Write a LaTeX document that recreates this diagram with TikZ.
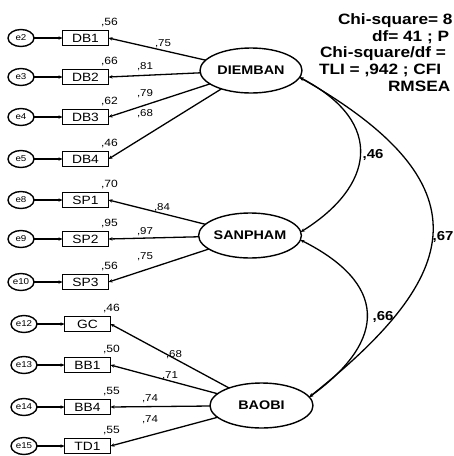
\documentclass[tikz,border=0pt]{standalone}
\usepackage{fontspec}
\setmainfont{Liberation Sans}
\newfontfamily\wide[FakeStretch=1.15]{Liberation Sans}
\usetikzlibrary{arrows.meta,shapes.geometric,calc}
\begin{document}
\begin{tikzpicture}[x=1pt,y=-1pt,
  every node/.style={inner sep=0pt,outer sep=0pt},
  errnode/.style={draw,ellipse,line width=1.4pt,minimum width=26pt,minimum height=17pt,font=\wide\fontsize{8.5}{9}\selectfont},
  obsbox/.style={draw,rectangle,line width=1.4pt,minimum width=46pt,minimum height=15.5pt,font=\wide\fontsize{12}{13}\selectfont},
  latent/.style={draw,ellipse,line width=1.4pt,minimum height=45pt,font=\wide\bfseries\fontsize{12.5}{13}\selectfont},
  tip/.style={-{Stealth[length=4pt,width=3.4pt]}},
  errarrow/.style={tip,line width=1.4pt},
  load/.style={tip,line width=1.3pt},
  cov/.style={{Stealth[length=4pt,width=3.4pt]}-{Stealth[length=4pt,width=3.4pt]},line width=1.3pt},
  rsq/.style={font=\wide\fontsize{10.5}{11}\selectfont},
  wlab/.style={font=\wide\fontsize{10}{11}\selectfont},
  clab/.style={font=\wide\bfseries\fontsize{13}{14}\selectfont},
  fit/.style={anchor=base west,font=\wide\bfseries\fontsize{15}{16}\selectfont}]
\useasboundingbox[fill=white] (0,0) rectangle (454,456);

% latent variables
\node[latent,minimum width=102pt] (DIEMBAN) at (251,70.5) {DIEMBAN};
\node[latent,minimum width=100pt] (SANPHAM) at (250,235.5) {SANPHAM};
\node[latent,minimum width=103pt] (BAOBI) at (261.5,405.5) {BAOBI};

% observed variables and errors
\foreach \n/\e/\y in {DB1/e2/38,DB2/e3/77,DB3/e4/117,DB4/e5/159,SP1/e8/200,SP2/e9/239,SP3/e10/282}{
  \node[obsbox] (\n) at (85.5,\y) {\n};
  \node[errnode] (\e) at (21,\y) {\e};
  \draw[errarrow] (\e) -- (\n);
}
\foreach \n/\e/\y in {GC/e12/324,BB1/e13/365,BB4/e14/407,TD1/e15/446}{
  \node[obsbox] (\n) at (87.5,\y) {\n};
  \node[errnode] (\e) at (24,\y) {\e};
  \draw[errarrow] (\e) -- (\n);
}

% squared multiple correlations
\foreach \n/\v in {DB1/56,DB2/66,DB3/62,DB4/46,SP1/70,SP2/95,SP3/56,GC/46,BB1/50,BB4/55,TD1/55}{
  \node[rsq] (r\n) at ($(\n.north east)+(1,-7.5)$) {,\v};
}

% loadings
\foreach \n in {DB1,DB2,DB3,DB4}{\draw[load] (DIEMBAN) -- (\n.east);}
\foreach \n in {SP1,SP2,SP3}{\draw[load] (SANPHAM) -- (\n.east);}
\foreach \n in {GC,BB1,BB4,TD1}{\draw[load] (BAOBI) -- (\n.east);}

\node[wlab] (lDB1) at (163,44) {,75};
\node[wlab] (lDB2) at (145,67) {,81};
\node[wlab] (lDB3) at (145,94) {,79};
\node[wlab] (lDB4) at (145,114) {,68};
\node[wlab] (lSP1) at (162,208) {,84};
\node[wlab] (lSP2) at (145,232) {,97};
\node[wlab] (lSP3) at (145,257) {,75};
\node[wlab] (lGC) at (174,355) {,68};
\node[wlab] (lBB1) at (170,376) {,71};
\node[wlab] (lBB4) at (150,399) {,74};
\node[wlab] (lTD1) at (150,420) {,74};

% covariances
\draw[cov] (DIEMBAN.-8) .. controls (387,123) and (373,187) .. (SANPHAM.4);
\draw[cov] (DIEMBAN.-8) .. controls (498,190) and (452,283) .. (BAOBI.10);
\draw[cov] (SANPHAM.-5) .. controls (386,283) and (389,339) .. (BAOBI.10);
\node[clab] (c46) at (373,155) {,46};
\node[clab] (c67) at (443,237) {,67};
\node[clab] (c66) at (383,317) {,66};

% fit indices
\node[fit] (f1) at (338,24) {Chi-square= 8};
\node[fit] (f2) at (372,41) {df= 41 ; P};
\node[fit] (f3) at (320,57) {Chi-square/df =};
\node[fit] (f4) at (319,74) {TLI = ,942 ; CFI};
\node[fit] (f5) at (388,91) {RMSEA};
\end{tikzpicture}
\end{document}
